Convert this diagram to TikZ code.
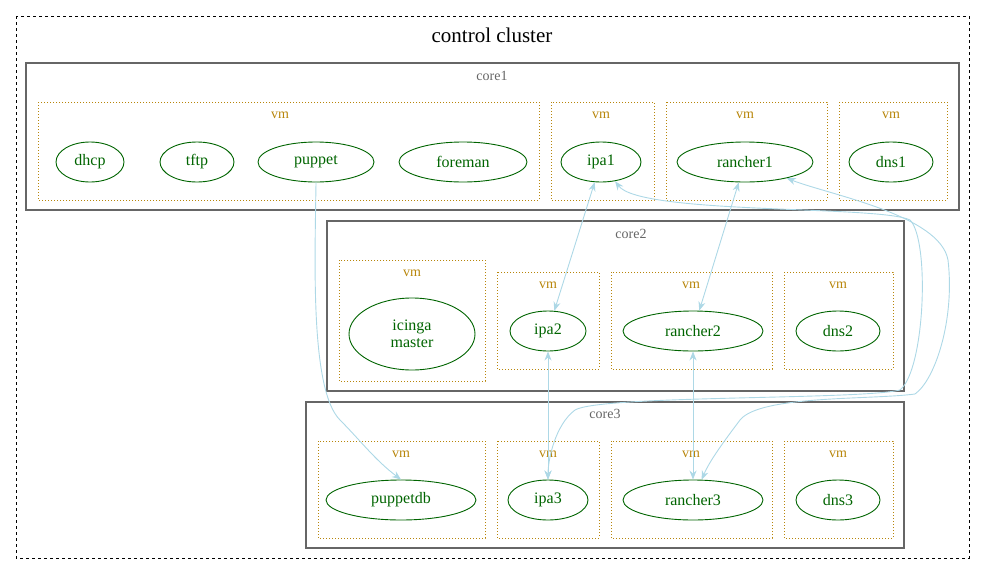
\documentclass[tikz,border=0pt]{standalone}
\usepackage{fontspec}
\setmainfont{Liberation Serif}
\usetikzlibrary{shapes.geometric,arrows.meta}
\definecolor{dg}{HTML}{006400}
\definecolor{gold}{HTML}{B8860B}
\definecolor{cg}{HTML}{666666}
\definecolor{lb}{HTML}{ADD8E6}
\begin{document}
\begin{tikzpicture}[x=1pt,y=-1pt,
 n/.style={ellipse,draw=dg,line width=0.9pt,text=dg,font=\fontsize{16}{17}\selectfont,inner sep=0,align=center},
 vm/.style={draw=gold,dotted,line width=1pt},
 vml/.style={text=gold,font=\fontsize{14}{15}\selectfont},
 core/.style={draw=cg,line width=1.5pt},
 corel/.style={text=cg,font=\fontsize{14}{15}\selectfont},
 e/.style={draw=lb,line width=0.9pt,-{Stealth[length=9pt,width=7pt]}},
 bi/.style={e,{Stealth[length=9pt,width=7pt]}-{Stealth[length=9pt,width=7pt]}}]
\useasboundingbox (0,0) rectangle (985,576);
\draw[dashed,line width=0.9pt] (16,16) rectangle (969,558);
\node[font=\fontsize{21}{23}\selectfont] (t) at (492,35) {control cluster};
% core1
\draw[core] (26,63) rectangle (959,210); \node[corel] (c1) at (492,76) {core1};
\draw[vm] (38,102) rectangle (539,200); \node[vml] (v1) at (280,115) {vm};
\draw[vm] (551,102) rectangle (654,200); \node[vml] (v2) at (601,115) {vm};
\draw[vm] (666,102) rectangle (827,200); \node[vml] (v3) at (745,115) {vm};
\draw[vm] (839,102) rectangle (947,200); \node[vml] (v4) at (891,115) {vm};
\node[n,minimum width=68,minimum height=40] (dhcp) at (90,162) {dhcp};
\node[n,minimum width=74,minimum height=40] (tftp) at (197,162) {tftp};
\node[n,minimum width=116,minimum height=40] (puppet) at (316,162) {puppet};
\node[n,minimum width=128,minimum height=40] (foreman) at (463,162) {foreman};
\node[n,minimum width=80,minimum height=40] (ipa1) at (601,162) {ipa1};
\node[n,minimum width=136,minimum height=40] (rancher1) at (745,162) {rancher1};
\node[n,minimum width=84,minimum height=40] (dns1) at (891,162) {dns1};
% core2
\draw[core] (327,221) rectangle (904,391); \node[corel] (c2) at (631,234) {core2};
\draw[vm] (339,260) rectangle (485,381); \node[vml] (v5) at (412,273) {vm};
\draw[vm] (497,272) rectangle (599,369); \node[vml] (v6) at (548,285) {vm};
\draw[vm] (611,272) rectangle (772,369); \node[vml] (v7) at (691,285) {vm};
\draw[vm] (784,272) rectangle (893,369); \node[vml] (v8) at (838,285) {vm};
\node[n,minimum width=126,minimum height=72] (icinga) at (412,334) {icinga\\master};
\node[n,minimum width=76,minimum height=40] (ipa2) at (548,331) {ipa2};
\node[n,minimum width=140,minimum height=40] (rancher2) at (693,331) {rancher2};
\node[n,minimum width=84,minimum height=40] (dns2) at (838,331) {dns2};
% core3
\draw[core] (306,402) rectangle (904,548); \node[corel] (c3) at (605,414) {core3};
\draw[vm] (318,441) rectangle (485,538); \node[vml] (v9) at (401,454) {vm};
\draw[vm] (497,441) rectangle (599,538); \node[vml] (v10) at (548,454) {vm};
\draw[vm] (611,441) rectangle (772,538); \node[vml] (v11) at (691,454) {vm};
\draw[vm] (784,441) rectangle (893,538); \node[vml] (v12) at (838,454) {vm};
\node[n,minimum width=150,minimum height=40] (puppetdb) at (401,500) {puppetdb};
\node[n,minimum width=80,minimum height=40] (ipa3) at (548,500) {ipa3};
\node[n,minimum width=140,minimum height=40] (rancher3) at (693,500) {rancher3};
\node[n,minimum width=84,minimum height=40] (dns3) at (838,500) {dns3};
% edges
\draw[e] (puppet.south) .. controls (315,260) and (310,390) .. (340,420) .. controls (360,440) and (375,460) .. (puppetdb.north);
\draw[bi] (ipa1) -- (ipa2);
\draw[bi] (ipa2) -- (ipa3);
\draw[bi] (rancher1) -- (rancher2);
\draw[bi] (rancher2) -- (rancher3);
\draw[bi] (ipa1) .. controls (640,215) and (880,205) .. (910,220) .. controls (930,240) and (925,370) .. (900,390) .. controls (860,400) and (600,395) .. (575,410) .. controls (555,425) and (548,460) .. (ipa3);
\draw[bi] (rancher1) .. controls (830,195) and (940,215) .. (948,260) .. controls (955,320) and (935,380) .. (915,394) .. controls (870,400) and (760,395) .. (740,420) .. controls (725,440) and (710,460) .. (rancher3);
\end{tikzpicture}
\end{document}
